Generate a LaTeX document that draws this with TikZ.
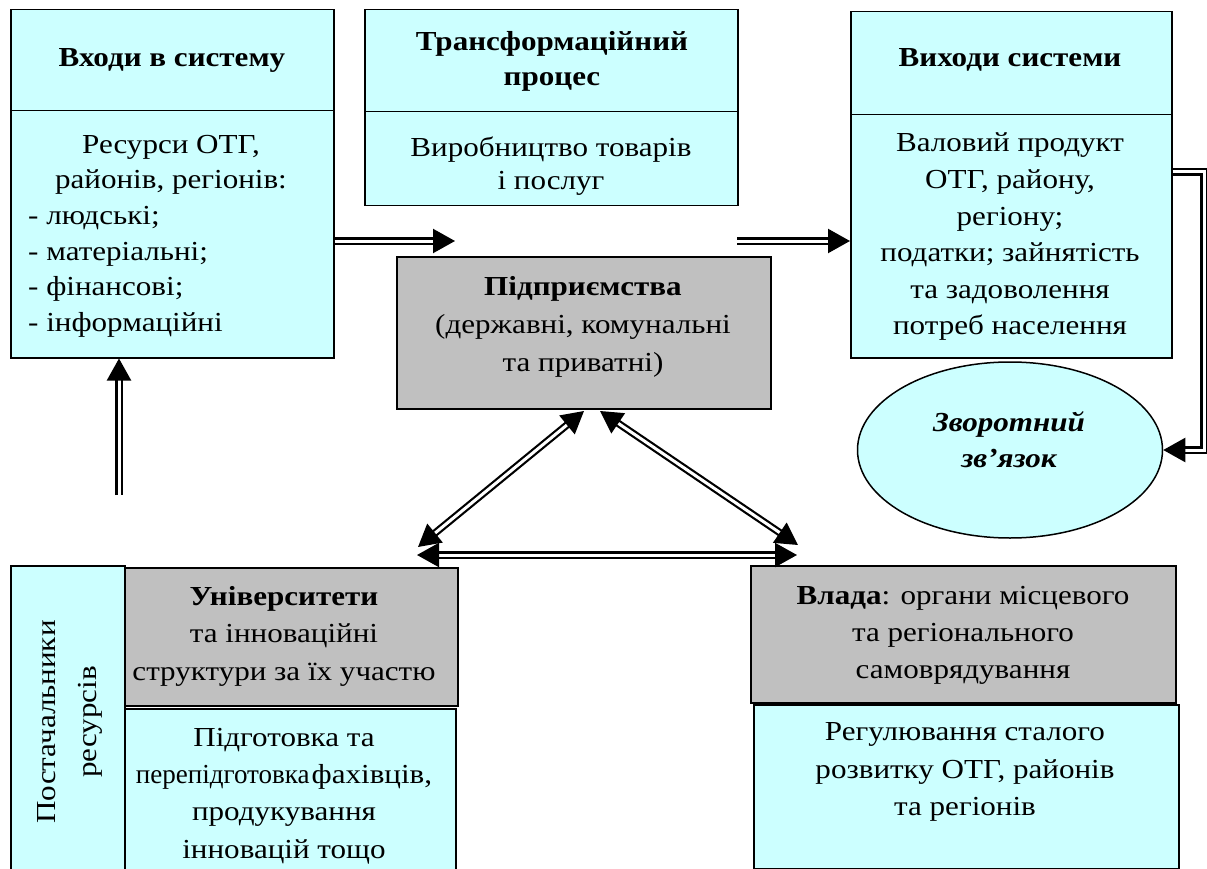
\documentclass[tikz,border=0pt]{standalone}
\usepackage{fontspec}
\usepackage{graphicx}
\setmainfont{Liberation Serif}[FakeStretch=1.13]
\usetikzlibrary{arrows.meta,shapes.geometric}
\definecolor{lcyan}{HTML}{CCFFFF}
\definecolor{lgray}{HTML}{C0C0C0}
\newcommand\myfs[1]{\fontsize{27.5}{#1}\selectfont}
\begin{document}
\begin{tikzpicture}[x=1pt,y=-1pt,
  box/.style={draw=black, line width=1.5pt, anchor=north west, inner sep=0pt},
  cy/.style={box, fill=lcyan},
  gr/.style={box, fill=lgray, line width=2.2pt},
  txt/.style={align=center, inner sep=0pt},
  dbl/.style={double, double distance=3pt, line width=2.2pt, -{Triangle[length=22pt,width=24pt]}},
  dbltwo/.style={double, double distance=3pt, line width=2.2pt, {Triangle[length=22pt,width=24pt]}-{Triangle[length=22pt,width=24pt]}},
]
\fill[white] (0,0) rectangle (1207,869);
\useasboundingbox (0,0) rectangle (1207,869);

% boxes
\node[cy, minimum width=323pt, minimum height=101pt] (inhead) at (10,9) {};
\node[cy, minimum width=323pt, minimum height=247pt] (inbody) at (10,110) {};
\node[cy, minimum width=373pt, minimum height=102pt] (trhead) at (364,9) {};
\node[cy, minimum width=373pt, minimum height=94pt] (trbody) at (364,111) {};
\node[cy, minimum width=321pt, minimum height=103pt] (outhead) at (850,11) {};
\node[cy, minimum width=321pt, minimum height=243pt] (outbody) at (850,114) {};
\node[gr, minimum width=374pt, minimum height=152pt] (ent) at (396,256) {};
\node[draw=black, line width=1.5pt, fill=lcyan, ellipse, minimum width=305pt, minimum height=176pt, inner sep=0pt] (fb) at (1010,450) {};
\node[cy, minimum width=114pt, minimum height=330pt] (supp) at (10,565) {};
\node[gr, minimum width=333pt, minimum height=138pt] (univ) at (124,567) {};
\node[cy, minimum width=331pt, minimum height=175pt] (univbody) at (124,708) {};
\node[gr, minimum width=425pt, minimum height=137pt] (vlada) at (750,565) {};
\node[cy, minimum width=425pt, minimum height=164pt] (vladabody) at (753,704) {};

% texts
\node[txt, font=\myfs{36}\bfseries] (tinhead) at (172,60) {Входи в систему};
\node[txt, font=\myfs{35}] (tinbody) at (171,165) {Ресурси ОТГ,\\районів, регіонів:};
\node[txt, align=left, anchor=west, font=\myfs{35.5}] (tinlist) at (28,272) {- людські;\\- матеріальні;\\- фінансові;\\- інформаційні};
\node[txt, font=\myfs{35}\bfseries] (ttrhead) at (552,61) {Трансформаційний\\процес};
\node[txt, font=\myfs{33}] (ttrbody) at (551,166) {Виробництво товарів\\і послуг};
\node[txt, font=\myfs{36}\bfseries] (touthead) at (1010,60) {Виходи системи};
\node[txt, font=\myfs{36.6}] (toutbody) at (1010,237) {Валовий продукт\\ОТГ, району,\\регіону;\\податки; зайнятість\\та задоволення\\потреб населення};
\node[txt, font=\myfs{38}] (tent) at (583,327) {\textbf{Підприємства}\\(державні, комунальні\\та приватні)};
\node[txt, font=\myfs{36}\bfseries\itshape] (tfb) at (1009,440) {Зворотний\\зв’язок};
\node[txt, font=\myfs{41}, rotate=90] (tsupp) at (70,722) {Постачальники\\ресурсів};
\node[txt, font=\myfs{37.5}] (tuniv) at (284,636) {\textbf{Університети}\\та інноваційні\\структури за їх участю};
\node[txt, font=\myfs{37.3}] (tunivbody) at (284,796) {Підготовка та\\\scalebox{0.87}[1]{перепідготовка}\hspace{2pt}фахівців,\\продукування\\інновацій тощо};
\node[txt, font=\myfs{37}] (tvlada) at (963,635) {\textbf{Влада}: органи місцевого\\та регіонального\\самоврядування};
\node[txt, font=\myfs{37.5}] (tvladabody) at (965,772) {Регулювання сталого\\розвитку ОТГ, районів\\та регіонів};

% connectors
\coordinate (a1e) at (455,241);
\draw[dbl] (inbody.east |- a1e) -- (a1e);
\coordinate (a2s) at (737,241);
\draw[dbl] (a2s) -- (outbody.west |- a2s);
\coordinate (fbr) at (1204,172);
\draw[dbl] (outbody.east |- fbr) -- (fbr) |- (fb.east);
\coordinate (vb) at (119,495);
\draw[dbl] (vb) -- (vb |- inbody.south);
\coordinate (t1) at (584,411);
\coordinate (t2) at (600,411);
\coordinate (bl) at (418,547);
\coordinate (br) at (798,545);
\coordinate (hl) at (417,555);
\coordinate (hr) at (797,555);
\draw[dbltwo] (t1) -- (bl);
\draw[dbltwo] (t2) -- (br);
\draw[dbltwo] (hl) -- (hr);
\end{tikzpicture}
\end{document}
